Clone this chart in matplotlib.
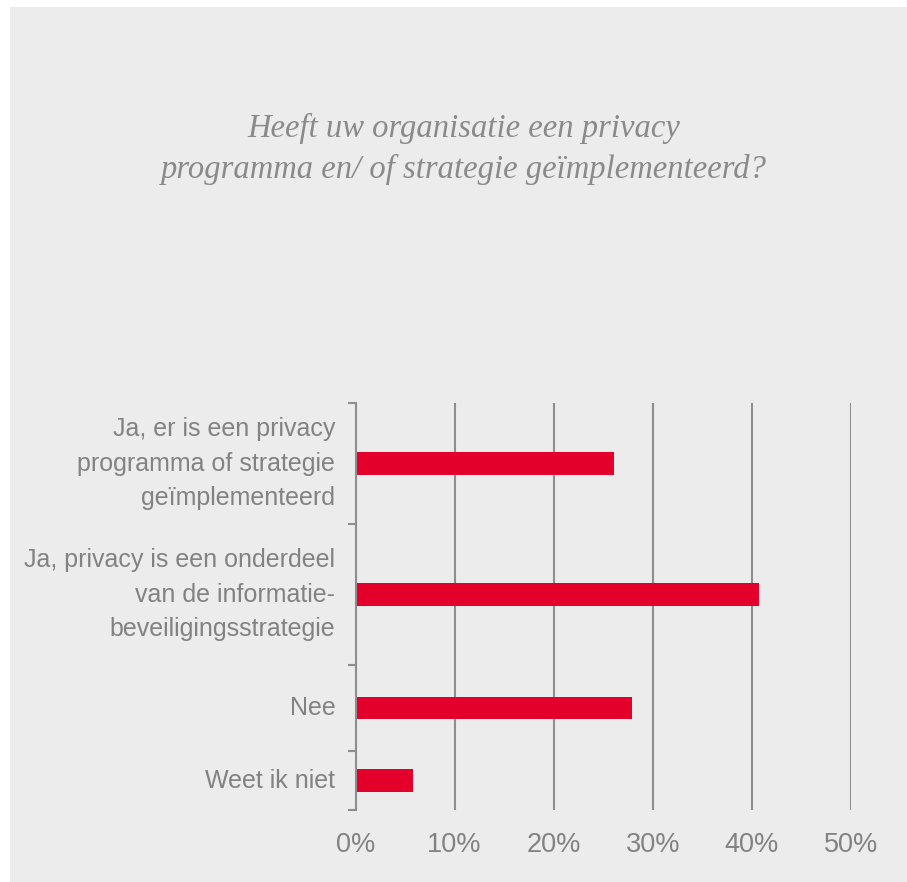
import numpy as np
import matplotlib
matplotlib.use("Agg")
import matplotlib.pyplot as plt
from matplotlib.patches import Rectangle

# Data
categories = [
    "Ja, er is een privacy\nprogramma of strategie\ngeïmplementeerd",
    "Ja, privacy is een onderdeel\nvan de informatie-\nbeveiligingsstrategie",
    "Nee",
    "Weet ik niet",
]
values = [26.1, 40.7, 27.9, 5.8]
xticks = [0, 10, 20, 30, 40, 50]
title = "Heeft uw organisatie een privacy\nprogramma en/ of strategie geïmplementeerd?"

# Layout: relative heights of each category band (top to bottom)
band_heights = [121, 141, 86, 59]

bg = "#ececec"
red = "#e3002b"
grey = "#8e8e8e"
text_grey = "#828282"

W, H = 907, 882
fig = plt.figure(figsize=(W / 100, H / 100), dpi=100)
fig.patch.set_facecolor("white")
fig.patches.append(Rectangle((10 / W, 0), 1 - 10 / W, 1 - 7 / H,
                             transform=fig.transFigure, facecolor=bg,
                             edgecolor="none", zorder=-5))

ax = fig.add_axes([355.5 / W, 1 - 810 / H, (851 - 355.5) / W, (810 - 403) / H])
ax.set_facecolor("none")
ax.set_zorder(2)

bounds = np.concatenate([[0], np.cumsum(band_heights)])
centers = (bounds[:-1] + bounds[1:]) / 2
ax.barh(centers, values, height=22.7, color=red, zorder=3)

ax.set_xlim(0, 50)
ax.set_ylim(bounds[-1], 0)

ax.set_xticks(xticks)
ax.set_xticklabels([f"{t}%" for t in xticks])
ax.tick_params(axis="x", length=0, pad=16, labelsize=19.5, labelcolor=text_grey)
ax.grid(axis="x", color=grey, linewidth=1.5, zorder=1)

ax.set_yticks(bounds)
ax.set_yticklabels([])
ax.tick_params(axis="y", which="major", length=6, width=1.5, color=grey,
               direction="out")
ax.set_yticks(centers, minor=True)
ax.set_yticklabels(categories, minor=True, linespacing=1.56)
ax.tick_params(axis="y", which="minor", length=0, pad=14.5, labelsize=18,
               labelcolor=text_grey)

for s in ["top", "right", "bottom"]:
    ax.spines[s].set_visible(False)
ax.spines["left"].set_color(grey)
ax.spines["left"].set_linewidth(1.5)
ax.spines["left"].set_zorder(4)

for lbl in ax.get_xticklabels() + ax.get_yticklabels(minor=True):
    lbl.set_fontfamily(["Liberation Sans", "DejaVu Sans"])
for lbl in ax.get_yticklabels(minor=True):
    lbl.set_verticalalignment("center")

fig.text(464 / W, 1 - 149 / H, title, ha="center", va="center",
         fontsize=23.5, fontstyle="italic", color="#8a8a8a",
         family=["Liberation Serif", "DejaVu Serif"], linespacing=1.45)

fig.savefig("out.png", dpi=100, facecolor=fig.get_facecolor())
